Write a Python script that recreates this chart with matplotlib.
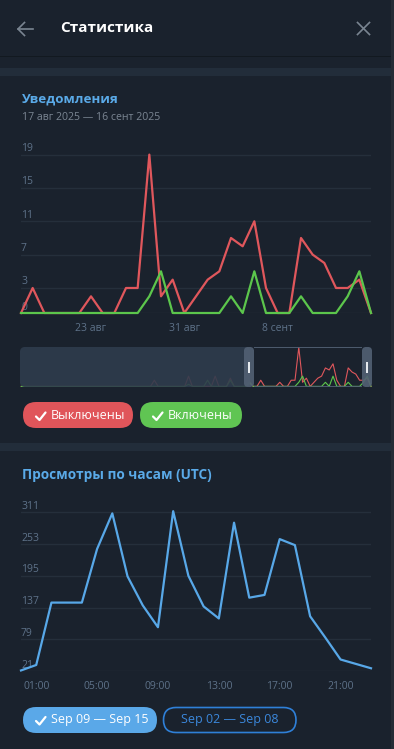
"""Telegram-style statistics panel: notifications and hourly views."""

import matplotlib

matplotlib.use("Agg")
import matplotlib.pyplot as plt
import matplotlib.transforms as mtransforms
from matplotlib.patches import FancyBboxPatch, Rectangle

plt.rcParams["font.family"] = ["Open Sans", "DejaVu Sans"]

W, H = 394, 749

# Уведомления, 17 авг 2025 .. 16 сент 2025 (day index 0..30)
days = list(range(31))
off_values = [0, 3, 0, 0, 0, 0, 2, 0, 0, 3, 3, 19, 2, 4, 0, 2,
              4, 5, 9, 8, 11, 3, 0, 0, 9, 7, 6, 3, 3, 4, 0]
on_values = [0, 0, 0, 0, 0, 0, 0, 0, 0, 0, 0, 2, 5, 0, 0, 0,
             0, 0, 2, 0, 5, 0, 0, 0, 2, 0, 0, 0, 2, 5, 0]
day_ticks = [6, 14, 22]
day_labels = ["23 авг", "31 авг", "8 сент"]
count_ticks = [0, 3, 7, 11, 15, 19]

# earlier days shown only in the range selector (day index -62..-1)
prev_days = list(range(-62, 0))
prev_off = [0, 0, 0, 0, 0, 0, 0, 0, 0, 0, 0, 0, 0, 0, 0, 0,
            0, 0, 0, 0, 0, 0, 0, 0, 0, 0, 0, 0, 0, 0, 0, 0,
            0, 0, 0, 3, 0, 0, 0, 0, 0, 0, 0, 0, 5, 0, 0, 0,
            0, 0, 0, 5, 0, 0, 0, 4, 0, 0, 0, 0, 2, 0]
prev_on = [0, 0, 0, 0, 0, 0, 0, 0, 0, 0, 0, 0, 0, 0, 0, 0,
           0, 0, 0, 0, 0, 0, 0, 0, 0, 0, 0, 0, 0, 0, 0, 0,
           0, 0, 0, 0, 0, 0, 0, 0, 0, 0, 0, 0, 1, 0, 0, 0,
           0, 3, 0, 0, 0, 0, 0, 3, 0, 0, 0, 0, 2, 0]

# Просмотры по часам (UTC)
hours = list(range(24))
views = [22, 32, 146, 146, 146, 244, 309, 194, 141, 101, 313, 195,
         139, 117, 292, 155, 160, 262, 251, 121, 82, 42, 34, 26]
hour_ticks = [1, 5, 9, 13, 17, 21]
hour_labels = ["01:00", "05:00", "09:00", "13:00", "17:00", "21:00"]
view_ticks = [21, 79, 137, 195, 253, 311]

BG = "#1a222d"
BAND = "#222d3a"
GRID = "#252f3b"
TICK = "#5e7289"
RED = "#e0575c"
GREEN = "#5cc64c"
BLUE = "#58a8e8"
TITLE = "#5aaae8"
FRAME = "#526174"


def px_axes(fig, left, top, right, bottom):
    return fig.add_axes([left / W, 1 - bottom / H, (right - left) / W, (bottom - top) / H])


def pill(ax, x0, y0, x1, y1, **kw):
    r = (y1 - y0) / 2
    p = FancyBboxPatch((x0, y0), x1 - x0, y1 - y0,
                       boxstyle=f"round,pad=0,rounding_size={r}", **kw)
    ax.add_patch(p)


def check(ax, x, y, color="white"):
    ax.plot([x, x + 3.5, x + 9.5], [y + 0.5, y + 4, y - 3.5], color=color,
            lw=1.6, solid_capstyle="round", solid_joinstyle="round")


def style_chart(fig, ax, ticks):
    ax.set_facecolor("none")
    for s in ax.spines.values():
        s.set_visible(False)
    ax.set_yticks(ticks)
    ax.yaxis.grid(True, color=GRID, lw=1.0)
    ax.tick_params(axis="y", length=0, labelleft=False)
    ax.tick_params(axis="x", length=0, colors=TICK, labelsize=7.5, pad=7.5)
    trans = mtransforms.offset_copy(ax.get_yaxis_transform(), fig=fig, x=0, y=3.5, units="dots")
    for t in ticks:
        ax.text(0, t, str(t), transform=trans, color=TICK, fontsize=7.5,
                ha="left", va="baseline")


def main() -> None:
    fig = plt.figure(figsize=(W / 100, H / 100), dpi=100, facecolor=BG)

    bg = fig.add_axes([0, 0, 1, 1], zorder=0)
    bg.set_xlim(0, W)
    bg.set_ylim(H, 0)
    bg.axis("off")
    bg.add_patch(Rectangle((391, 0), 3, H, color="#252c36", lw=0))
    bg.add_patch(Rectangle((0, 55.5), 391, 1.2, color="#121920", lw=0))
    bg.add_patch(Rectangle((0, 68), 391, 8, color=BAND, lw=0))
    bg.add_patch(Rectangle((0, 443), 391, 8, color=BAND, lw=0))

    # header
    bg.plot([18, 33], [29, 29], color="#7a8591", lw=1.2)
    bg.plot([24.5, 18, 24.5], [22.5, 29, 35.5], color="#7a8591", lw=1.2)
    bg.plot([357.5, 369.5], [22.5, 34.5], color="#7a8591", lw=1.2)
    bg.plot([357.5, 369.5], [34.5, 22.5], color="#7a8591", lw=1.2)
    bg.text(60, 28.5, "Статистика", color="white", fontsize=11, weight="bold",
            ha="left", va="center")

    bg.text(22, 99, "Уведомления", color=TITLE, fontsize=9.6, weight="bold",
            ha="left", va="center")
    bg.text(22, 118, "17 авг 2025 — 16 сент 2025", color="#7b8693", fontsize=7.6,
            ha="left", va="center")
    bg.text(22, 474.5, "Просмотры по часам (UTC)", color=TITLE, fontsize=9.8,
            weight="bold", ha="left", va="center")

    # notifications chart
    ax1 = px_axes(fig, 21, 140, 371, 313)
    ppu1 = (312.7 - 154.3) / 19
    ax1.set_xlim(0, 30)
    ax1.set_ylim(0, (313 - 140) / ppu1)
    style_chart(fig, ax1, count_ticks)
    ax1.set_xticks(day_ticks, day_labels)
    ax1.plot(days, off_values, color=RED, lw=1.6, clip_on=False, zorder=3)
    ax1.plot(days, on_values, color=GREEN, lw=1.6, clip_on=False, zorder=4)

    # range selector
    ax3 = px_axes(fig, 20, 347, 372, 387)
    ax3.set_xlim(-62.34, 30.26)
    ax3.set_ylim(-0.3, 19.2)
    ax3.axis("off")
    ax3.plot(prev_days + days, prev_off + off_values, color=RED, lw=0.8)
    ax3.plot(prev_days + days, prev_on + on_values, color=GREEN, lw=0.8)

    fg = fig.add_axes([0, 0, 1, 1], zorder=5)
    fg.set_xlim(0, W)
    fg.set_ylim(H, 0)
    fg.axis("off")
    fg.add_patch(FancyBboxPatch((20, 347), 230, 40, boxstyle="round,pad=0,rounding_size=5",
                                color="#2f3c4d", alpha=0.9, lw=0))
    for x0 in (244, 362):
        fg.add_patch(FancyBboxPatch((x0, 347), 10, 40, boxstyle="round,pad=0,rounding_size=4",
                                    color=FRAME, alpha=0.9, lw=0))
    fg.add_patch(Rectangle((254, 347), 108, 1.2, color=FRAME, alpha=0.9, lw=0))
    fg.add_patch(Rectangle((254, 385.8), 108, 1.2, color=FRAME, alpha=0.9, lw=0))
    fg.add_patch(Rectangle((248.3, 361.5), 2, 11, color="#e6eaee", lw=0))
    fg.add_patch(Rectangle((366, 361.5), 2, 11, color="#e6eaee", lw=0))

    # legend buttons
    pill(fg, 23, 402, 133, 428, color="#e0555a", lw=0)
    check(fg, 36, 416)
    fg.text(51, 415.5, "Выключены", color="white", fontsize=9, ha="left", va="center")
    pill(fg, 140, 402, 242, 428, color="#60c553", lw=0)
    check(fg, 153, 416)
    fg.text(168, 415.5, "Включены", color="white", fontsize=9, ha="left", va="center")

    # hourly views chart
    ax2 = px_axes(fig, 21, 500, 371, 671)
    ppu2 = (671 - 512.3) / (311 - 21)
    ax2.set_xlim(0, 23)
    ax2.set_ylim(21, 21 + (671 - 500) / ppu2)
    style_chart(fig, ax2, view_ticks)
    ax2.set_xticks(hour_ticks, hour_labels)
    ax2.plot(hours, views, color=BLUE, lw=1.6, clip_on=False, zorder=3)

    pill(fg, 23, 707, 157, 733, color="#5aa8e8", lw=0)
    check(fg, 36, 720.5)
    fg.text(51, 720, "Sep 09 — Sep 15", color="white", fontsize=9, ha="left", va="center")
    pill(fg, 163.5, 707.5, 296, 732.5, facecolor="none", edgecolor="#2f80d8", lw=1.2)
    fg.text(229.5, 720, "Sep 02 — Sep 08", color="#3b88dc", fontsize=9, ha="center", va="center")

    fig.savefig("out.png", dpi=100, facecolor=BG)
    plt.close(fig)


if __name__ == "__main__":
    main()
